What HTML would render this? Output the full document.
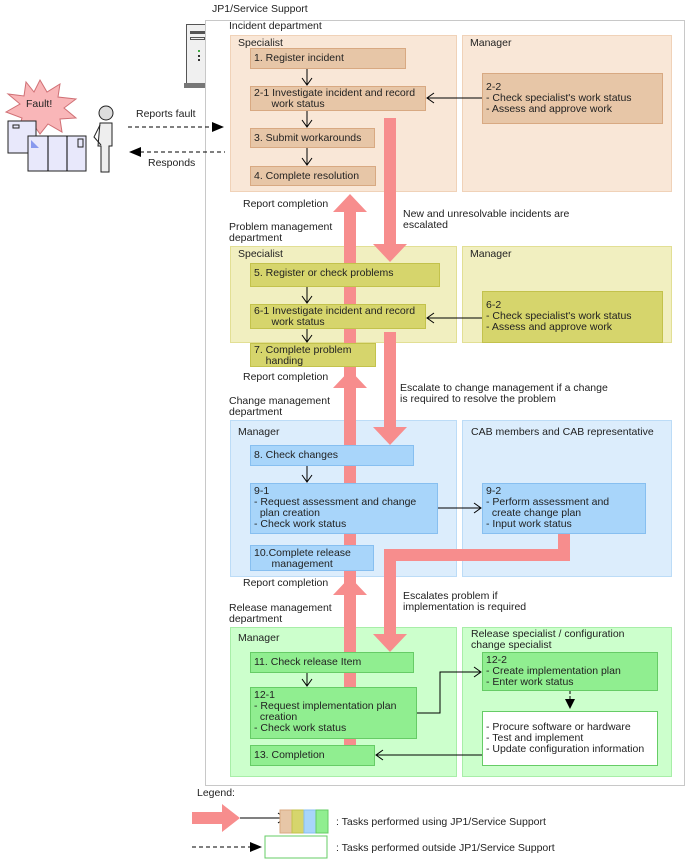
<!DOCTYPE html>
<html><head><meta charset="utf-8"><style>
body{margin:0;background:#fff;width:687px;height:863px;position:relative;overflow:hidden;font-family:"Liberation Sans",sans-serif;font-size:10.5px;color:#222}
.a{position:absolute;line-height:11px;white-space:nowrap}
.p{position:absolute;box-sizing:border-box}
.b{position:absolute;box-sizing:border-box;padding:2px 3px;line-height:11px;white-space:nowrap}
.s{padding-top:4px}
.o{background:#f9e7d7;border:1px solid #f0d2b8}
.ob{background:#e7c6a7;border:1px solid #d8a982}
.y{background:#f1efc0;border:1px solid #e2df94}
.yb{background:#d6d56c;border:1px solid #c3c24c}
.c{background:#dcedfc;border:1px solid #bcdcf7}
.cb{background:#a8d5fa;border:1px solid #87bff0}
.g{background:#ccffcc;border:1px solid #a8eea8}
.gb{background:#90ee90;border:1px solid #66cc66}
</style></head><body>
<div class="a" style="left:212px;top:4px">JP1/Service Support</div>
<div class="p" style="left:205px;top:20px;width:480px;height:766px;border:1px solid #c8c8c8"></div>
<!-- server -->
<div class="p" style="left:186px;top:24px;width:19px;height:60px;background:#f0f0f0;border:1px solid #555;border-right:none"></div>
<div class="p" style="left:190px;top:31px;width:15px;height:3px;background:#555"></div>
<div class="p" style="left:190px;top:37px;width:15px;height:3px;border:1px solid #555"></div>
<div class="p" style="left:198px;top:50px;width:2px;height:2px;background:#4a4"></div>
<div class="p" style="left:198px;top:55px;width:2px;height:2px;background:#333"></div>
<div class="p" style="left:198px;top:59px;width:2px;height:2px;background:#333"></div>
<div class="p" style="left:184px;top:83px;width:21px;height:5px;background:#777"></div>

<div class="a" style="left:229px;top:21px">Incident department</div>
<div class="p o" style="left:230px;top:35px;width:227px;height:157px"></div>
<div class="p o" style="left:462px;top:35px;width:210px;height:157px"></div>
<div class="a" style="left:238px;top:38px">Specialist</div>
<div class="a" style="left:470px;top:38px">Manager</div>

<div class="a" style="left:229px;top:222px">Problem management<br>department</div>
<div class="p y" style="left:230px;top:246px;width:227px;height:97px"></div>
<div class="p y" style="left:462px;top:246px;width:210px;height:97px"></div>
<div class="a" style="left:238px;top:249px">Specialist</div>
<div class="a" style="left:470px;top:249px">Manager</div>

<div class="a" style="left:229px;top:396px">Change management<br>department</div>
<div class="p c" style="left:230px;top:420px;width:227px;height:157px"></div>
<div class="p c" style="left:462px;top:420px;width:210px;height:157px"></div>
<div class="a" style="left:238px;top:427px">Manager</div>
<div class="a" style="left:471px;top:427px">CAB members and CAB representative</div>

<div class="a" style="left:229px;top:603px">Release management<br>department</div>
<div class="p g" style="left:230px;top:627px;width:227px;height:150px"></div>
<div class="p g" style="left:462px;top:627px;width:210px;height:150px"></div>
<div class="a" style="left:238px;top:633px">Manager</div>
<div class="a" style="left:471px;top:629px">Release specialist / configuration<br>change specialist</div>

<!-- thick arrows -->
<svg class="p" style="left:0;top:0" width="687" height="863">
<g fill="#f78d8d">
<rect x="344" y="210" width="12" height="535"/>
<polygon points="333,212 367,212 350,194"/>
<polygon points="333,388 367,388 350,370"/>
<polygon points="333,595 367,595 350,577"/>
<rect x="384" y="118" width="12" height="127"/>
<polygon points="373,244 407,244 390,262"/>
<rect x="384" y="332" width="12" height="96"/>
<polygon points="373,427 407,427 390,445"/>
<rect x="558" y="533" width="12" height="28"/>
<rect x="384" y="549" width="186" height="12"/>
<rect x="384" y="549" width="12" height="86"/>
<polygon points="373,634 407,634 390,652"/>
</g>
</svg>

<div class="b ob s" style="left:250px;top:48px;width:156px;height:21px">1. Register incident</div>
<div class="b ob" style="left:250px;top:86px;width:176px;height:25px;padding-top:1px">2-1 Investigate incident and record<br>&nbsp;&nbsp;&nbsp;&nbsp;&nbsp;&nbsp;work status</div>
<div class="b ob s" style="left:250px;top:128px;width:125px;height:20px">3. Submit workarounds</div>
<div class="b ob s" style="left:250px;top:166px;width:126px;height:20px">4. Complete resolution</div>
<div class="b ob" style="left:482px;top:73px;width:181px;height:51px;padding-top:8px">2-2<br>- Check specialist's work status<br>- Assess and approve work</div>

<div class="b yb s" style="left:250px;top:263px;width:190px;height:24px">5. Register or check problems</div>
<div class="b yb" style="left:250px;top:304px;width:176px;height:25px;padding-top:1px">6-1 Investigate incident and record<br>&nbsp;&nbsp;&nbsp;&nbsp;&nbsp;&nbsp;work status</div>
<div class="b yb" style="left:250px;top:343px;width:126px;height:24px;padding-top:1px">7. Complete problem<br>&nbsp;&nbsp;&nbsp;&nbsp;handing</div>
<div class="b yb" style="left:482px;top:291px;width:181px;height:52px;padding-top:8px">6-2<br>- Check specialist's work status<br>- Assess and approve work</div>

<div class="b cb s" style="left:250px;top:445px;width:164px;height:21px">8. Check changes</div>
<div class="b cb" style="left:250px;top:483px;width:188px;height:51px;padding-top:2px">9-1<br>- Request assessment and change<br>&nbsp;&nbsp;plan creation<br>- Check work status</div>
<div class="b cb" style="left:250px;top:545px;width:124px;height:26px;padding-top:2px">10.Complete release<br>&nbsp;&nbsp;&nbsp;&nbsp;&nbsp;&nbsp;management</div>
<div class="b cb" style="left:482px;top:483px;width:164px;height:51px;padding-top:2px">9-2<br>- Perform assessment and<br>&nbsp;&nbsp;create change plan<br>- Input work status</div>

<div class="b gb s" style="left:250px;top:652px;width:164px;height:21px">11. Check release Item</div>
<div class="b gb" style="left:250px;top:687px;width:167px;height:52px;padding-top:2px">12-1<br>- Request implementation plan<br>&nbsp;&nbsp;creation<br>- Check work status</div>
<div class="b gb s" style="left:250px;top:745px;width:125px;height:21px">13. Completion</div>
<div class="b gb" style="left:482px;top:652px;width:176px;height:39px;padding-top:2px">12-2<br>- Create implementation plan<br>- Enter work status</div>
<div class="b" style="left:482px;top:711px;width:176px;height:55px;background:#fff;border:1px solid #66cc66;padding-top:10px">- Procure software or hardware<br>- Test and implement<br>- Update configuration information</div>

<div class="a" style="left:243px;top:199px">Report completion</div>
<div class="a" style="left:403px;top:209px">New and unresolvable incidents are<br>escalated</div>
<div class="a" style="left:243px;top:372px">Report completion</div>
<div class="a" style="left:400px;top:383px">Escalate to change management if a change<br>is required to resolve the problem</div>
<div class="a" style="left:243px;top:578px">Report completion</div>
<div class="a" style="left:403px;top:591px">Escalates problem if<br>implementation is required</div>

<div class="a" style="left:136px;top:109px">Reports fault</div>
<div class="a" style="left:148px;top:158px">Responds</div>
<div class="a" style="left:197px;top:788px">Legend:</div>
<div class="a" style="left:336px;top:817px">: Tasks performed using JP1/Service Support</div>
<div class="a" style="left:336px;top:843px">: Tasks performed outside JP1/Service Support</div>

<svg class="p" style="left:0;top:0" width="687" height="863" fill="none" stroke="#000" stroke-width="1">
<g>
<path d="M307 69V85M302 78l5 7 5-7"/>
<path d="M307 111V127M302 120l5 7 5-7"/>
<path d="M307 148V165M302 158l5 7 5-7"/>
<path d="M307 287V303M302 296l5 7 5-7"/>
<path d="M307 329V342M302 335l5 7 5-7"/>
<path d="M307 466V482M302 475l5 7 5-7"/>
<path d="M307 673V686M302 679l5 7 5-7"/>
<path d="M482 98H427M434 93l-7 5 7 5"/>
<path d="M482 318H427M434 313l-7 5 7 5"/>
<path d="M438 508H481M474 503l7 5-7 5"/>
<path d="M417 713H440V672H481M474 667l7 5-7 5"/>
<path d="M482 755H376M383 750l-7 5 7 5"/>
<path d="M570 691V700" stroke-dasharray="3,2"/>
<path d="M128 127H212" stroke-dasharray="4,3"/>
<path d="M140 152H225" stroke-dasharray="4,3"/>
<path d="M192 847H250" stroke-dasharray="4,3"/>
<path d="M240 818H285M278 813l7 5-7 5"/>
</g>
<g fill="#000" stroke="none">
<polygon points="565,699 575,699 570,709"/>
<polygon points="212,122 224,127 212,132"/>
<polygon points="129,152 141,147 141,157"/>
<polygon points="250,842 262,847 250,852"/>
</g>
<polygon points="192,812 222,812 222,804 240,818 222,832 222,824 192,824" fill="#f78d8d" stroke="none"/>
<rect x="280" y="810" width="12" height="23" fill="#e7c6a7" stroke="#d8a982"/>
<rect x="292" y="810" width="12" height="23" fill="#d6d56c" stroke="#c3c24c"/>
<rect x="304" y="810" width="12" height="23" fill="#a8d5fa" stroke="#87bff0"/>
<rect x="316" y="810" width="12" height="23" fill="#90ee90" stroke="#66cc66"/>
<rect x="265" y="836" width="62" height="22" fill="#fff" stroke="#66cc66"/>
<polygon points="40,80 47,92 60,84 58,97 76,99 64,108 76,118 60,119 62,132 48,124 40,134 33,124 18,130 22,118 6,112 20,104 8,94 24,96 26,82 34,92" fill="#f9b6b8" stroke="#d07075"/>
<text x="26" y="107" fill="#222" stroke="none" font-size="10.5" font-family="Liberation Sans">Fault!</text>
<rect x="8" y="121" width="28" height="32" fill="#e8e8fb" stroke="#222"/>
<rect x="13" y="125" width="6" height="3" fill="none" stroke="#222"/>
<rect x="28" y="136" width="58" height="35" fill="#e8e8fb" stroke="#222"/>
<line x1="48" y1="136" x2="48" y2="171"/><line x1="67" y1="136" x2="67" y2="171"/>
<rect x="78" y="139" width="5" height="8" fill="none" stroke="#222"/>
<polygon points="31,140 31,148 39,148" fill="#8899ee" stroke="none"/>
<circle cx="106" cy="113" r="7" fill="#ddd" stroke="#222"/>
<path d="M100 123h12v23h-3v26h-8v-26h-3z" fill="#eee" stroke="#222"/>
<path d="M100 125l-6 12 7 8" fill="none" stroke="#222"/>
</svg>
</body></html>
